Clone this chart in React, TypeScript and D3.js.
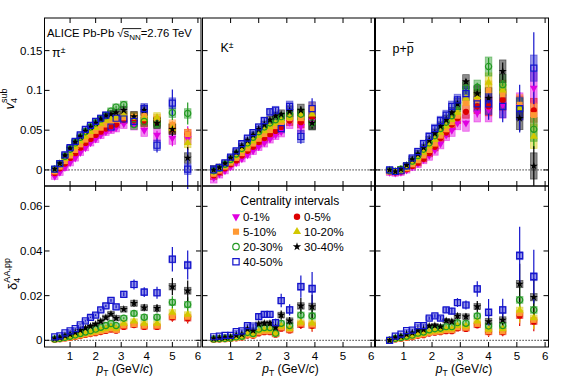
import React, { useLayoutEffect, useRef, useState } from "react";
import * as d3 from "d3";

const width = 567;
const height = 385;
const font = "'Liberation Sans', Arial, Helvetica, sans-serif";

// centrality classes, drawing order = legend order
const centralities = ["0-1%", "0-5%", "5-10%", "10-20%", "20-30%", "30-40%", "40-50%"];
const colors = ["#e000e0", "#dd0000", "#ff9933", "#d2c800", "#229922", "#000000", "#1414cc"];
const markerTypes = ["tridown", "circle", "square", "triup", "ocircle", "star", "osquare"];

// pT bin centres (GeV/c)
const ptPi = [0.4, 0.6, 0.8, 1.0, 1.2, 1.4, 1.6, 1.8, 2.0, 2.2, 2.4, 2.6, 2.8, 3.1, 3.5, 3.9, 4.4, 5.0, 5.6];
const ptK = [0.4, 0.6, 0.8, 1.0, 1.2, 1.4, 1.6, 1.8, 2.0, 2.2, 2.4, 2.6, 2.8, 3.1, 3.5, 3.9];
const ptP = [0.5, 0.7, 0.9, 1.1, 1.3, 1.5, 1.7, 1.9, 2.1, 2.3, 2.5, 2.7, 2.9, 3.2, 3.6, 4.0, 4.5, 5.1, 5.6];

const xTicks = [1, 2, 3, 4, 5, 6];
const v4Ticks = [0, 0.05, 0.1, 0.15];
const v4TickLabels = ["0", "0.05", "0.1", "0.15"];
const d4Ticks = [0, 0.02, 0.04, 0.06];
const d4TickLabels = ["0", "0.02", "0.04", "0.06"];

// v4^sub, pions
const v4Pi01 = [-0.008, -0.003, 0.003, 0.009, 0.015, 0.022, 0.028, 0.034, 0.039, 0.044, 0.048, 0.051, 0.053, 0.058, 0.058, 0.050, 0.044, 0.040, 0.040];
const v4Pi05 = [-0.004, 0.002, 0.008, 0.015, 0.021, 0.028, 0.034, 0.039, 0.044, 0.048, 0.052, 0.055, 0.057, 0.063, 0.062, 0.060, 0.061, 0.052, 0.045];
const v4Pi510 = [-0.002, 0.004, 0.011, 0.018, 0.025, 0.032, 0.038, 0.044, 0.049, 0.053, 0.057, 0.061, 0.063, 0.066, 0.067, 0.068, 0.064, 0.057, 0.045];
const v4Pi1020 = [0.0, 0.006, 0.014, 0.021, 0.029, 0.036, 0.042, 0.048, 0.053, 0.058, 0.062, 0.065, 0.067, 0.069, 0.066, 0.064, 0.066, 0.052, 0.034];
const v4Pi2030 = [0.001, 0.008, 0.017, 0.026, 0.034, 0.041, 0.048, 0.054, 0.059, 0.064, 0.068, 0.074, 0.079, 0.082, 0.057, 0.061, 0.058, 0.072, 0.071];
const v4Pi3040 = [0.001, 0.008, 0.018, 0.027, 0.035, 0.042, 0.049, 0.054, 0.059, 0.064, 0.068, 0.070, 0.072, 0.075, 0.067, 0.075, 0.059, 0.051, 0.015];
const v4Pi4050 = [0.001, 0.008, 0.019, 0.028, 0.036, 0.044, 0.051, 0.056, 0.061, 0.065, 0.069, 0.054, 0.065, 0.064, 0.061, 0.077, 0.031, 0.084, 0.001];

// v4^sub, kaons
const v4K01 = [-0.010, -0.005, -0.001, 0.004, 0.009, 0.014, 0.019, 0.024, 0.029, 0.034, 0.039, 0.044, 0.048, 0.060, 0.055, 0.062];
const v4K05 = [-0.007, -0.003, 0.002, 0.007, 0.012, 0.018, 0.024, 0.029, 0.035, 0.040, 0.045, 0.049, 0.054, 0.062, 0.060, 0.067];
const v4K510 = [-0.005, -0.001, 0.004, 0.009, 0.015, 0.021, 0.027, 0.033, 0.039, 0.045, 0.050, 0.055, 0.059, 0.065, 0.065, 0.077];
const v4K1020 = [-0.003, 0.001, 0.005, 0.011, 0.017, 0.024, 0.030, 0.036, 0.043, 0.049, 0.054, 0.058, 0.062, 0.066, 0.069, 0.070];
const v4K2030 = [-0.001, 0.002, 0.007, 0.013, 0.020, 0.027, 0.034, 0.041, 0.048, 0.054, 0.059, 0.063, 0.067, 0.070, 0.070, 0.059];
const v4K3040 = [0.0, 0.003, 0.008, 0.015, 0.022, 0.030, 0.037, 0.044, 0.051, 0.057, 0.063, 0.068, 0.070, 0.074, 0.075, 0.059];
const v4K4050 = [0.0, 0.003, 0.009, 0.016, 0.024, 0.033, 0.040, 0.047, 0.054, 0.062, 0.073, 0.075, 0.052, 0.080, 0.042, 0.077];

// v4^sub, protons
const v4P01 = [-0.003, -0.004, -0.003, 0.0, 0.004, 0.008, 0.013, 0.018, 0.025, 0.033, 0.044, 0.050, 0.059, 0.059, 0.072, 0.076, 0.082, 0.080, 0.103];
const v4P05 = [-0.002, -0.003, -0.002, 0.001, 0.005, 0.009, 0.014, 0.021, 0.029, 0.040, 0.047, 0.057, 0.065, 0.073, 0.080, 0.080, 0.088, 0.080, 0.075];
const v4P510 = [-0.002, -0.002, -0.001, 0.002, 0.007, 0.012, 0.018, 0.025, 0.033, 0.043, 0.051, 0.060, 0.068, 0.084, 0.088, 0.100, 0.095, 0.082, 0.069];
const v4P1020 = [-0.001, -0.002, 0.0, 0.004, 0.009, 0.015, 0.022, 0.030, 0.038, 0.047, 0.055, 0.063, 0.072, 0.090, 0.092, 0.110, 0.100, 0.078, 0.042];
const v4P2030 = [-0.001, -0.002, 0.001, 0.005, 0.011, 0.018, 0.026, 0.034, 0.043, 0.052, 0.060, 0.068, 0.080, 0.103, 0.104, 0.130, 0.107, 0.077, 0.051];
const v4P3040 = [0.0, -0.002, 0.001, 0.006, 0.013, 0.020, 0.028, 0.037, 0.046, 0.055, 0.063, 0.072, 0.083, 0.111, 0.096, 0.090, 0.124, 0.065, 0.005];
const v4P4050 = [0.0, -0.002, -0.001, 0.005, 0.015, 0.023, 0.033, 0.042, 0.052, 0.062, 0.069, 0.080, 0.088, 0.096, 0.083, 0.083, 0.080, 0.077, 0.128];

// delta4^{AA,pp} (no 0-1% class)
const d4Pi05 = [0.0003, 0.0005, 0.0008, 0.0011, 0.0015, 0.0019, 0.0024, 0.0028, 0.0032, 0.0037, 0.0042, 0.0048, 0.0043, 0.0060, 0.0068, 0.0060, 0.0060, 0.0102, 0.0098];
const d4Pi510 = [0.0003, 0.0005, 0.0009, 0.0012, 0.0016, 0.0021, 0.0026, 0.0030, 0.0035, 0.0040, 0.0045, 0.0052, 0.0046, 0.0066, 0.0072, 0.0065, 0.0065, 0.0108, 0.0105];
const d4Pi1020 = [0.0004, 0.0006, 0.0010, 0.0014, 0.0019, 0.0024, 0.0030, 0.0035, 0.0040, 0.0046, 0.0052, 0.0060, 0.0053, 0.0075, 0.0085, 0.0075, 0.0075, 0.0125, 0.0115];
const d4Pi2030 = [0.0005, 0.0008, 0.0013, 0.0018, 0.0024, 0.0030, 0.0037, 0.0043, 0.0050, 0.0058, 0.0066, 0.0075, 0.0066, 0.0099, 0.0120, 0.0103, 0.0103, 0.0170, 0.0160];
const d4Pi3040 = [0.0008, 0.0012, 0.0020, 0.0027, 0.0035, 0.0045, 0.0055, 0.0063, 0.0072, 0.0085, 0.0102, 0.0118, 0.0099, 0.0139, 0.0166, 0.0146, 0.0143, 0.0240, 0.0222];
const d4Pi4050 = [0.0015, 0.0020, 0.0033, 0.0042, 0.0052, 0.0069, 0.0087, 0.0103, 0.0113, 0.0136, 0.0154, 0.0179, 0.0150, 0.0206, 0.0250, 0.0216, 0.0213, 0.0363, 0.0337];

const d4K05 = [0.0003, 0.0004, 0.0005, 0.0006, 0.0009, 0.0012, 0.0021, 0.0020, 0.0031, 0.0036, 0.0036, 0.0025, 0.0052, 0.0044, 0.0068, 0.0065];
const d4K510 = [0.0003, 0.0004, 0.0005, 0.0007, 0.0010, 0.0013, 0.0024, 0.0022, 0.0035, 0.0040, 0.0040, 0.0027, 0.0057, 0.0048, 0.0074, 0.0070];
const d4K1020 = [0.0004, 0.0005, 0.0006, 0.0008, 0.0012, 0.0015, 0.0028, 0.0025, 0.0040, 0.0046, 0.0046, 0.0030, 0.0063, 0.0052, 0.0080, 0.0076];
const d4K2030 = [0.0005, 0.0007, 0.0008, 0.0010, 0.0015, 0.0018, 0.0035, 0.0030, 0.0050, 0.0057, 0.0057, 0.0031, 0.0076, 0.0066, 0.0113, 0.0109];
const d4K3040 = [0.0008, 0.0010, 0.0012, 0.0014, 0.0022, 0.0026, 0.0050, 0.0043, 0.0073, 0.0076, 0.0076, 0.0057, 0.0113, 0.0087, 0.0154, 0.0151];
const d4K4050 = [0.0016, 0.0019, 0.0022, 0.0022, 0.0039, 0.0042, 0.0066, 0.0064, 0.0106, 0.0116, 0.0116, 0.0079, 0.0178, 0.0136, 0.0240, 0.0231];

const d4P05 = [0.0, 0.0004, 0.0007, 0.0011, 0.0014, 0.0020, 0.0023, 0.0030, 0.0034, 0.0036, 0.0041, 0.0041, 0.0053, 0.0051, 0.0067, 0.0036, 0.0036, 0.0110, 0.0083];
const d4P510 = [0.0, 0.0005, 0.0008, 0.0012, 0.0016, 0.0022, 0.0026, 0.0033, 0.0037, 0.0039, 0.0045, 0.0045, 0.0058, 0.0056, 0.0073, 0.0040, 0.0040, 0.0121, 0.0091];
const d4P1020 = [0.0, 0.0006, 0.0010, 0.0014, 0.0018, 0.0025, 0.0029, 0.0037, 0.0042, 0.0044, 0.0050, 0.0050, 0.0065, 0.0063, 0.0085, 0.0048, 0.0050, 0.0135, 0.0100];
const d4P2030 = [0.0, 0.0008, 0.0012, 0.0018, 0.0023, 0.0032, 0.0037, 0.0047, 0.0052, 0.0054, 0.0061, 0.0061, 0.0079, 0.0076, 0.0109, 0.0064, 0.0066, 0.0181, 0.0136];
const d4P3040 = [0.0, 0.0012, 0.0018, 0.0027, 0.0033, 0.0044, 0.0048, 0.0064, 0.0066, 0.0061, 0.0088, 0.0084, 0.0109, 0.0106, 0.0151, 0.0084, 0.0091, 0.0252, 0.0193];
const d4P4050 = [0.0, 0.0019, 0.0028, 0.0043, 0.0046, 0.0066, 0.0066, 0.0099, 0.0109, 0.0099, 0.0136, 0.0131, 0.0169, 0.0158, 0.0230, 0.0125, 0.0136, 0.0379, 0.0285];

// statistical (bars) and systematic (boxes) uncertainties, read for the 40-50% class
const statV4Pi = [0.001, 0.001, 0.001, 0.001, 0.001, 0.001, 0.001, 0.0015, 0.0015, 0.002, 0.002, 0.0025, 0.003, 0.003, 0.005, 0.006, 0.009, 0.017, 0.025];
const sysV4Pi = [0.003, 0.003, 0.003, 0.003, 0.003, 0.003, 0.003, 0.003, 0.0035, 0.0035, 0.0035, 0.004, 0.004, 0.0045, 0.006, 0.006, 0.006, 0.006, 0.006];
const statV4K = [0.001, 0.001, 0.001, 0.001, 0.0015, 0.0015, 0.002, 0.002, 0.0025, 0.003, 0.003, 0.0035, 0.004, 0.004, 0.009, 0.013];
const sysV4K = [0.005, 0.004, 0.003, 0.003, 0.003, 0.003, 0.003, 0.0035, 0.0035, 0.004, 0.004, 0.0045, 0.005, 0.006, 0.007, 0.008];
const statV4P = [0.002, 0.002, 0.002, 0.002, 0.002, 0.002, 0.0025, 0.0025, 0.003, 0.003, 0.0035, 0.004, 0.005, 0.006, 0.01, 0.02, 0.02, 0.03, 0.045];
const sysV4P = [0.003, 0.003, 0.003, 0.003, 0.0035, 0.004, 0.004, 0.0045, 0.005, 0.005, 0.0055, 0.006, 0.0065, 0.008, 0.009, 0.012, 0.013, 0.013, 0.015];

const statD4Pi = [0.0001, 0.0001, 0.0001, 0.0002, 0.0002, 0.0002, 0.0003, 0.0003, 0.0004, 0.0004, 0.0005, 0.0006, 0.0007, 0.0009, 0.0022, 0.0022, 0.0027, 0.0055, 0.0065];
const sysD4Pi = [0.0004, 0.0004, 0.0005, 0.0006, 0.0006, 0.0007, 0.0008, 0.0009, 0.001, 0.0011, 0.0012, 0.0013, 0.0013, 0.0014, 0.0015, 0.0015, 0.0015, 0.0016, 0.0017];
const statD4K = [0.0002, 0.0002, 0.0002, 0.0003, 0.0004, 0.0005, 0.0006, 0.0008, 0.0015, 0.0015, 0.0015, 0.0018, 0.003, 0.0025, 0.005, 0.0075];
const sysD4K = [0.0005, 0.0005, 0.0005, 0.0006, 0.0006, 0.0007, 0.0008, 0.0009, 0.001, 0.0011, 0.0012, 0.0013, 0.0014, 0.0015, 0.0016, 0.0017];
const statD4P = [0.0003, 0.0003, 0.0003, 0.0004, 0.0004, 0.0005, 0.0006, 0.0007, 0.0008, 0.001, 0.0012, 0.0015, 0.002, 0.002, 0.0035, 0.006, 0.005, 0.013, 0.012];
const sysD4P = [0.0005, 0.0005, 0.0005, 0.0006, 0.0006, 0.0007, 0.0008, 0.0009, 0.001, 0.001, 0.0011, 0.0012, 0.0013, 0.0014, 0.0015, 0.0016, 0.0016, 0.0018, 0.0018];

// relative size of the uncertainties per centrality class
const statScaleV4 = [0.6, 0.3, 0.3, 0.35, 0.55, 0.55, 1];
const sysScaleV4 = [1.3, 1, 1, 1, 1, 1.1, 1.1];
const statScaleD4 = [0, 0.35, 0.35, 0.4, 0.5, 0.7, 1];
const sysScaleD4 = [0, 0.7, 0.7, 0.75, 0.85, 0.9, 1];

// layout (pixel frame of each pad)
const xDomain = [0, 6.12];
const colsPx = [[44.5, 201], [202.5, 374.5], [375.5, 548.5]];
const rowsPx = [[18, 186], [186, 347]];
const v4Domain = [-0.0202, 0.191];
const d4Domain = [-0.003, 0.0691];
const tickLen = 5;
const boxHalf = 3.3;

const Marker = ({ type, color, x, y, k = 1 }) => {
  const open = type === "ocircle" || type === "osquare";
  const sym = {
    tridown: d3.symbolTriangle,
    triup: d3.symbolTriangle,
    circle: d3.symbolCircle,
    ocircle: d3.symbolCircle,
    square: d3.symbolSquare,
    osquare: d3.symbolSquare,
    star: d3.symbolStar,
  }[type];
  const area = {
    tridown: 26,
    triup: 26,
    circle: 30,
    ocircle: 30,
    square: 34,
    osquare: 36,
    star: 20,
  }[type];
  const d = d3.symbol(sym, area * k * k)();
  const rot = type === "tridown" ? " rotate(180)" : "";
  return (
    <path
      d={d}
      transform={`translate(${x},${y})${rot}`}
      fill={open ? "none" : color}
      stroke={open ? color : "none"}
      strokeWidth={open ? 1.2 : 0}
    />
  );
};

const Panel = ({ col, row, pt, series, stat, sys, statScale, sysScale, yDomain, yTicks, yLabels }) => {
  const [x0, x1] = colsPx[col];
  const [y0, y1] = rowsPx[row];
  const x = d3.scaleLinear().domain(xDomain).range([x0, x1]);
  const y = d3.scaleLinear().domain(yDomain).range([y1, y0]);

  const pts = series.map((vals, s) =>
    vals
      ? vals.map((v, i) => ({
          s,
          px: x(pt[i]),
          v,
          st: stat[i] * statScale[s],
          sy: sys[i] * sysScale[s],
        }))
      : []
  );

  return (
    <g>
      <line x1={x0} x2={x1} y1={y(0)} y2={y(0)} stroke="#000" strokeWidth={1} strokeDasharray="1.2,1.8" />
      {pts.map((arr, s) =>
        arr.map((p, i) => (
          <rect
            key={`b${s}-${i}`}
            x={p.px - boxHalf}
            width={boxHalf * 2}
            y={y(p.v + p.sy)}
            height={y(p.v - p.sy) - y(p.v + p.sy)}
            fill={colors[s]}
            fillOpacity={0.45}
            stroke={colors[s]}
            strokeOpacity={0.5}
            strokeWidth={0.8}
          />
        ))
      )}
      {pts.map((arr, s) =>
        arr.map((p, i) => (
          <line
            key={`e${s}-${i}`}
            x1={p.px}
            x2={p.px}
            y1={y(p.v + p.st)}
            y2={y(p.v - p.st)}
            stroke={colors[s]}
            strokeWidth={1.2}
          />
        ))
      )}
      {pts.map((arr, s) =>
        arr.map((p, i) => (
          <Marker key={`m${s}-${i}`} type={markerTypes[s]} color={colors[s]} x={p.px} y={y(p.v)} />
        ))
      )}
      <rect x={x0} y={y0} width={x1 - x0} height={y1 - y0} fill="none" stroke="#000" strokeWidth={1} />
      {xTicks.map((t) => (
        <g key={`xt${t}`}>
          <line x1={x(t)} x2={x(t)} y1={y0} y2={y0 + tickLen} stroke="#000" />
          <line x1={x(t)} x2={x(t)} y1={y1} y2={y1 - tickLen} stroke="#000" />
        </g>
      ))}
      {yTicks.map((t) => (
        <g key={`yt${t}`}>
          <line x1={x0} x2={x0 + tickLen} y1={y(t)} y2={y(t)} stroke="#000" />
          <line x1={x1} x2={x1 - tickLen} y1={y(t)} y2={y(t)} stroke="#000" />
        </g>
      ))}
      {col === 0 &&
        yTicks.map((t, i) => (
          <text key={`yl${t}`} x={x0 - 2} y={y(t)} dy="0.35em" textAnchor="end" fontSize={11.5} fontFamily={font}>
            {yLabels[i]}
          </text>
        ))}
      {row === 1 &&
        xTicks.map((t) => (
          <text key={`xl${t}`} x={x(t)} y={359.5} textAnchor="middle" fontSize={11.5} fontFamily={font}>
            {t}
          </text>
        ))}
      {row === 1 && (
        <text x={(x0 + x1) / 2 + 2} y={373} textAnchor="middle" fontSize={12} fontFamily={font}>
          <tspan fontStyle="italic">p</tspan>
          <tspan fontSize={8.5} dy={3}>T</tspan>
          <tspan dy={-3}>{" (GeV/"}</tspan>
          <tspan fontStyle="italic">c</tspan>
          <tspan>)</tspan>
        </text>
      )}
    </g>
  );
};

const Legend = () => (
  <g fontFamily={font}>
    <text x={240.5} y={204.5} fontSize={12}>
      Centrality intervals
    </text>
    {centralities.map((c, i) => {
      const cx = i % 2 === 0 ? 236 : 297;
      const cy = 216.7 + Math.floor(i / 2) * 15;
      return (
        <g key={c}>
          <Marker type={markerTypes[i]} color={colors[i]} x={cx} y={cy} k={1.05} />
          <text x={cx + 7} y={cy + 4.2} fontSize={11.5}>
            {c}
          </text>
        </g>
      );
    })}
  </g>
);

export default function App() {
  const hdrRef = useRef(null);
  const pbarRef = useRef(null);
  const [bars, setBars] = useState(null);

  useLayoutEffect(() => {
    const h = hdrRef.current;
    const p = pbarRef.current;
    if (!h || !p) return;
    const root = h.getExtentOfChar(12);
    const lastN = h.getExtentOfChar(15);
    const pb = p.getExtentOfChar(2);
    setBars({
      sx1: root.x + root.width - 0.6,
      sx2: lastN.x + lastN.width + 0.5,
      px1: pb.x + 0.5,
      px2: pb.x + pb.width - 0.3,
    });
  }, []);

  return (
    <svg width={width} height={height} style={{ position: "absolute", left: 0, top: 0, background: "#fff" }}>
      <Panel col={0} row={0} pt={ptPi} series={[v4Pi01, v4Pi05, v4Pi510, v4Pi1020, v4Pi2030, v4Pi3040, v4Pi4050]}
        stat={statV4Pi} sys={sysV4Pi} statScale={statScaleV4} sysScale={sysScaleV4} yDomain={v4Domain} yTicks={v4Ticks} yLabels={v4TickLabels} />
      <Panel col={1} row={0} pt={ptK} series={[v4K01, v4K05, v4K510, v4K1020, v4K2030, v4K3040, v4K4050]}
        stat={statV4K} sys={sysV4K} statScale={statScaleV4} sysScale={sysScaleV4} yDomain={v4Domain} yTicks={v4Ticks} yLabels={v4TickLabels} />
      <Panel col={2} row={0} pt={ptP} series={[v4P01, v4P05, v4P510, v4P1020, v4P2030, v4P3040, v4P4050]}
        stat={statV4P} sys={sysV4P} statScale={statScaleV4} sysScale={sysScaleV4} yDomain={v4Domain} yTicks={v4Ticks} yLabels={v4TickLabels} />
      <Panel col={0} row={1} pt={ptPi} series={[null, d4Pi05, d4Pi510, d4Pi1020, d4Pi2030, d4Pi3040, d4Pi4050]}
        stat={statD4Pi} sys={sysD4Pi} statScale={statScaleD4} sysScale={sysScaleD4} yDomain={d4Domain} yTicks={d4Ticks} yLabels={d4TickLabels} />
      <Panel col={1} row={1} pt={ptK} series={[null, d4K05, d4K510, d4K1020, d4K2030, d4K3040, d4K4050]}
        stat={statD4K} sys={sysD4K} statScale={statScaleD4} sysScale={sysScaleD4} yDomain={d4Domain} yTicks={d4Ticks} yLabels={d4TickLabels} />
      <Panel col={2} row={1} pt={ptP} series={[null, d4P05, d4P510, d4P1020, d4P2030, d4P3040, d4P4050]}
        stat={statD4P} sys={sysD4P} statScale={statScaleD4} sysScale={sysScaleD4} yDomain={d4Domain} yTicks={d4Ticks} yLabels={d4TickLabels} />

      <Legend />

      {/* pad labels */}
      <text ref={hdrRef} x={47} y={37} fontSize={11.3} fontFamily={font}>
        <tspan>{"ALICE Pb-Pb "}</tspan>
        <tspan>√</tspan>
        <tspan>s</tspan>
        <tspan fontSize={8} dy={2.5}>NN</tspan>
        <tspan dy={-2.5}>=2.76 TeV</tspan>
      </text>
      <text x={52} y={57} fontSize={12.5} fontFamily={font}>
        π<tspan fontSize={8.5} dy={-4.5}>±</tspan>
      </text>
      <text x={220.5} y={52} fontSize={12.5} fontFamily={font}>
        K<tspan fontSize={8.5} dy={-4.5}>±</tspan>
      </text>
      <text ref={pbarRef} x={392.5} y={53} fontSize={12.5} fontFamily={font}>
        p+p
      </text>
      {bars && (
        <g stroke="#000" strokeWidth={0.9}>
          <line x1={bars.sx1} x2={bars.sx2} y1={28.6} y2={28.6} />
          <line x1={bars.px1} x2={bars.px2} y1={42.5} y2={42.5} />
        </g>
      )}

      {/* axis titles */}
      <text transform="translate(13.5,99) rotate(-90)" textAnchor="middle" fontSize={13} fontFamily={font}>
        <tspan fontStyle="italic">v</tspan>
        <tspan fontSize={9} dy={3}>4</tspan>
        <tspan fontSize={9} dx={-5} dy={-9.5}>sub</tspan>
      </text>
      <text transform="translate(16.5,274) rotate(-90)" textAnchor="middle" fontSize={13} fontFamily={font}>
        <tspan>δ</tspan>
        <tspan fontSize={9} dy={3}>4</tspan>
        <tspan fontSize={9} dx={-5} dy={-10}>AA,pp</tspan>
      </text>
    </svg>
  );
}
